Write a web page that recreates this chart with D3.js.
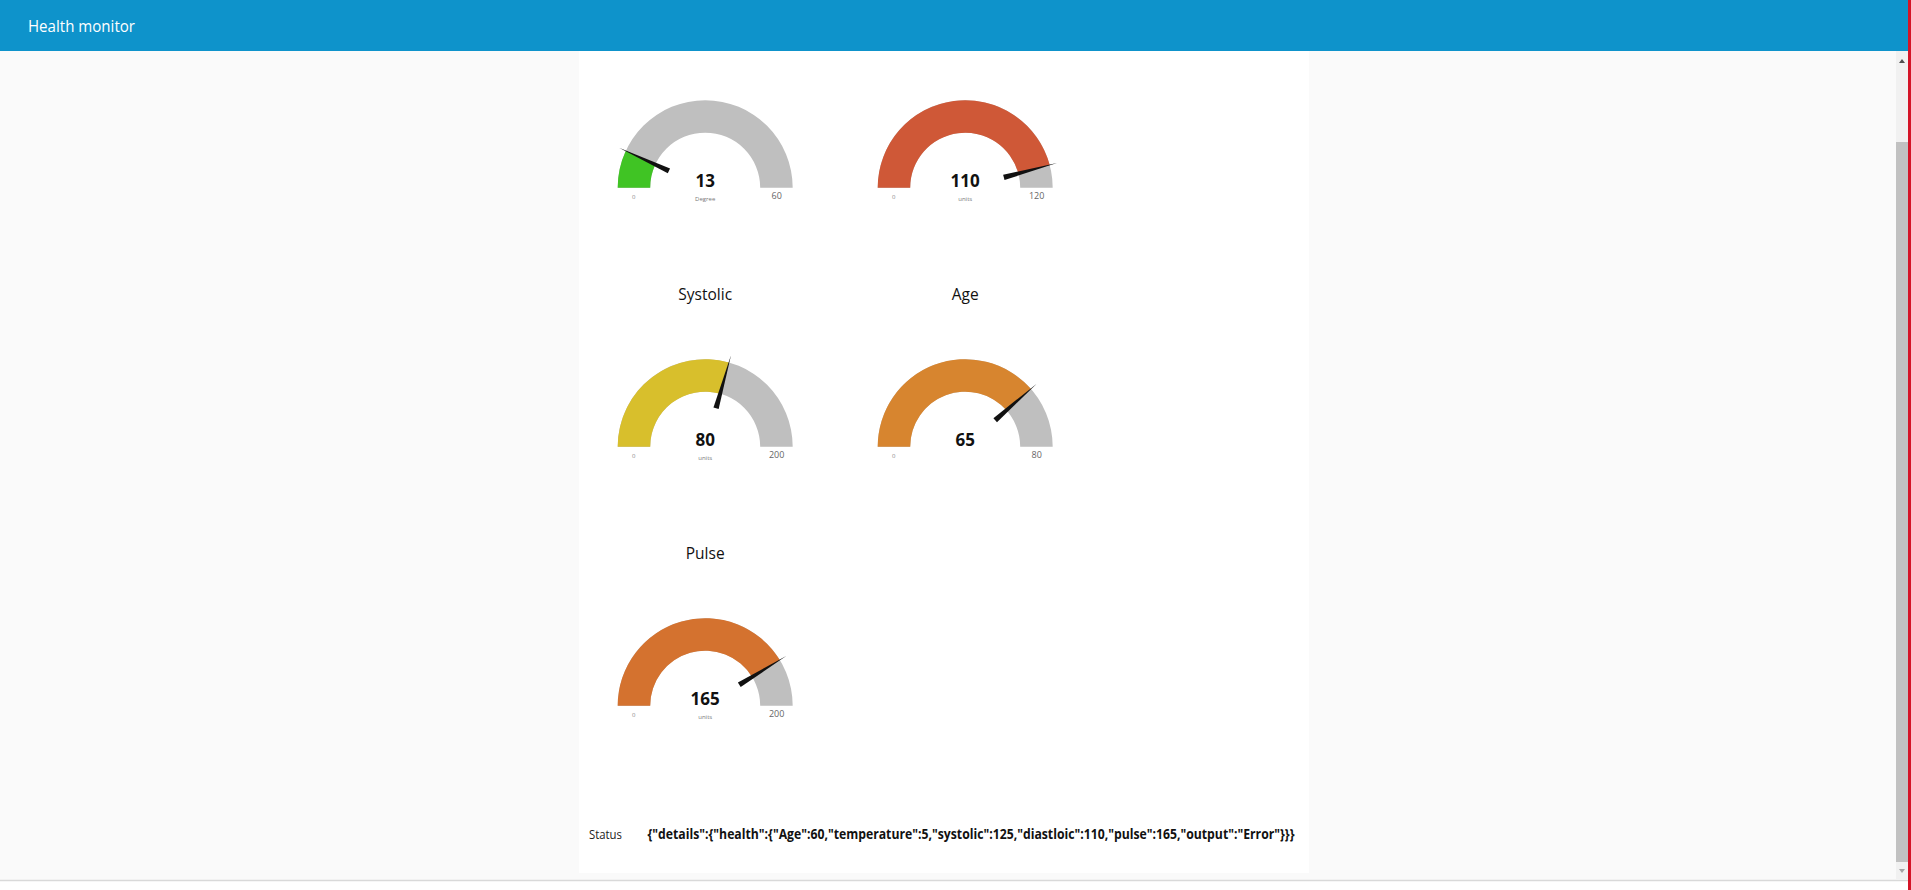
<!DOCTYPE html>
<html>
<head>
<meta charset="utf-8">
<script src="https://cdn.jsdelivr.net/npm/d3@7"></script>
<style>
  html, body { margin: 0; padding: 0; background: #fafafa; overflow: hidden; }
  svg { display: block; }
  text { font-family: "Open Sans", "Noto Sans", sans-serif; }
</style>
</head>
<body>
<svg id="chart" width="1911" height="890"></svg>
<script>
// ---- data ----
const pageTitle = "Health monitor";
const gaugeTitles = ["", "", "Systolic", "Age", "Pulse"];
const gaugeDisplayed = [13, 110, 80, 65, 165];      // numbers shown in the gauges
const gaugePointer = [8.3, 110, 117.5, 61.6, 165];  // where the needle / fill sits in the picture
const gaugeMin = [0, 0, 0, 0, 0];
const gaugeMax = [60, 120, 200, 80, 200];
const gaugeUnits = ["Degree", "units", "units", "", "units"];
const gaugeColors = ["#40c424", "#cf5837", "#d8bf2c", "#d7852f", "#d4722f"];
const statusLabel = "Status";
const statusText = '{"details":{"health":{"Age":60,"temperature":5,"systolic":125,"diastloic":110,"pulse":165,"output":"Error"}}}';

// ---- drawing ----
const W = 1911, H = 890;
const svg = d3.select("#chart");

// page background
svg.append("rect").attr("width", W).attr("height", H).attr("fill", "#fafafa");
// content panel
svg.append("rect").attr("x", 579).attr("y", 51).attr("width", 730).attr("height", 822).attr("fill", "#ffffff");
// bottom strip
svg.append("rect").attr("x", 0).attr("y", 880).attr("width", W).attr("height", 10).attr("fill", "#ffffff");
svg.append("line").attr("x1", 0).attr("x2", 1908).attr("y1", 880.5).attr("y2", 880.5)
  .attr("stroke", "#d9d9d9").attr("stroke-width", 1.5);

// header
svg.append("rect").attr("x", 0).attr("y", 0).attr("width", W).attr("height", 51).attr("fill", "#0e93cb");
svg.append("text").attr("x", 28).attr("y", 32).attr("fill", "#ffffff")
  .attr("font-size", 17).attr("textLength", 107).attr("lengthAdjust", "spacingAndGlyphs")
  .text(pageTitle);

// scrollbar
svg.append("rect").attr("x", 1896).attr("y", 51).attr("width", 12).attr("height", 828).attr("fill", "#f1f1f1");
svg.append("rect").attr("x", 1896).attr("y", 142).attr("width", 12).attr("height", 720).attr("fill", "#c1c1c1");
svg.append("path").attr("d", "M1899,63 L1905,63 L1902,59 Z").attr("fill", "#505050");
svg.append("path").attr("d", "M1899,869 L1905,869 L1902,873 Z").attr("fill", "#a3a3a3");
// red right edge
svg.append("rect").attr("x", 1908).attr("y", 0).attr("width", 3).attr("height", H).attr("fill", "#d41427");

// gauge grid layout
const colX = d3.scaleLinear().domain([0, 1]).range([705.2, 965.2]);
const rowY = d3.scaleLinear().domain([0, 1]).range([187.7, 446.7]);
const R_OUT = 87.5, R_IN = 55;

const gauges = gaugeDisplayed.map((v, i) => ({
  title: gaugeTitles[i], shown: v, pointer: gaugePointer[i],
  min: gaugeMin[i], max: gaugeMax[i], units: gaugeUnits[i], color: gaugeColors[i],
  cx: colX(i % 2), cy: rowY(Math.floor(i / 2))
}));

const arc = d3.arc().innerRadius(R_IN).outerRadius(R_OUT);

const g = svg.selectAll("g.gauge").data(gauges).join("g")
  .attr("class", "gauge")
  .attr("transform", d => `translate(${d.cx},${d.cy})`);

g.each(function(d) {
  const sel = d3.select(this);
  const ang = d3.scaleLinear().domain([d.min, d.max]).range([-Math.PI / 2, Math.PI / 2]);

  if (d.title) {
    sel.append("text").attr("x", 0).attr("y", -146.5).attr("text-anchor", "middle")
      .attr("font-size", 15.5).attr("fill", "#111").text(d.title);
  }
  sel.append("path").attr("d", arc({ startAngle: -Math.PI / 2, endAngle: Math.PI / 2 })).attr("fill", "#bfbfbf");
  sel.append("path").attr("d", arc({ startAngle: -Math.PI / 2, endAngle: ang(d.pointer) })).attr("fill", d.color);

  // needle
  const a = ang(d.pointer);
  const ux = Math.sin(a), uy = -Math.cos(a);
  const px = -uy, py = ux;
  const r0 = 40, r1 = 95, hw = 2.7;
  const pts = [
    [r0 * ux + hw * px, r0 * uy + hw * py],
    [r1 * ux, r1 * uy],
    [r0 * ux - hw * px, r0 * uy - hw * py]
  ];
  sel.append("path").attr("d", d3.line()(pts) + "Z").attr("fill", "#111");

  // value
  sel.append("text").attr("x", 0).attr("y", -1).attr("text-anchor", "middle")
    .attr("font-size", 17).attr("font-weight", "bold").attr("fill", "#111").text(d.shown);
  // units
  if (d.units) {
    sel.append("text").attr("x", 0).attr("y", 13.5).attr("text-anchor", "middle")
      .attr("font-size", 6).attr("fill", "#777").text(d.units);
  }
  // min / max
  sel.append("text").attr("x", -71.5).attr("y", 11).attr("text-anchor", "middle")
    .attr("font-size", 6).attr("fill", "#888").text(d.min);
  sel.append("text").attr("x", 71.5).attr("y", 11.5).attr("text-anchor", "middle")
    .attr("font-size", 9).attr("fill", "#666").text(d.max);
});

// status row
svg.append("text").attr("x", 589).attr("y", 839).attr("font-size", 13).attr("fill", "#222")
  .attr("textLength", 33).attr("lengthAdjust", "spacingAndGlyphs").text(statusLabel);
svg.append("text").attr("x", 647.5).attr("y", 839).attr("font-size", 14).attr("font-weight", "bold")
  .attr("fill", "#111").attr("textLength", 647).attr("lengthAdjust", "spacingAndGlyphs").text(statusText);
</script>
</body>
</html>
